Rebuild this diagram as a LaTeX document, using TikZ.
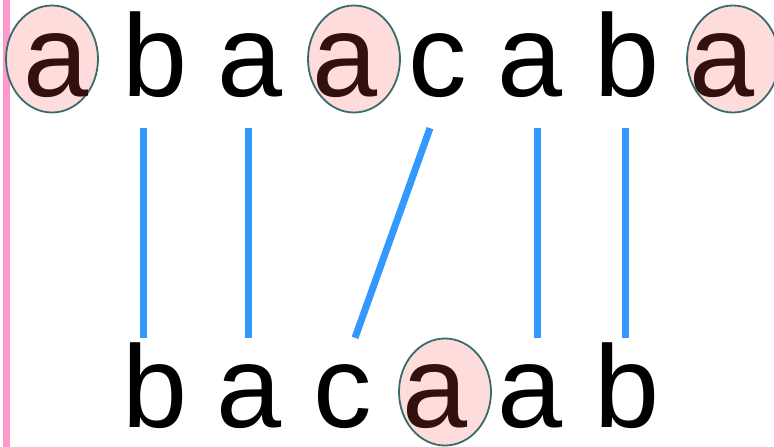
\documentclass[tikz,border=0pt]{standalone}
\usepackage{fontspec}
\setmainfont{Liberation Sans}
\usepackage{xcolor}
\usetikzlibrary{shapes.geometric}

\definecolor{linkblue}{HTML}{3399FF}
\definecolor{ringfill}{HTML}{FFDCDC}
\definecolor{ringline}{HTML}{3A6B6B}
\definecolor{hitext}{HTML}{321010}
\definecolor{edgepink}{HTML}{FF99CC}

\begin{document}
\begin{tikzpicture}[
        x=1pt, y=-1pt,
        letter/.style={anchor=base, inner sep=0pt, font=\fontsize{117}{117}\selectfont},
        upper/.style={letter, text depth=32pt},
        lower/.style={letter, text height=89pt, text depth=0pt},
        hit/.style={text=hitext},
        hilite/.style={ellipse, draw=ringline, line width=1.8pt, fill=ringfill, minimum width=92pt, minimum height=107pt, inner sep=0pt},
        link/.style={draw=linkblue, line width=7pt}
    ]
        \useasboundingbox (0,0) rectangle (774,447);

        % left margin line
        \draw [edgepink, line width=7pt] (6.5,0) -- (6.5,447);

        % highlight rings
        \node (r1) [hilite] at (52,59) {};
        \node (r2) [hilite] at (354,59) {};
        \node (r3) [hilite] at (733,59) {};
        \node (r4) [hilite] at (445,392) {};

        % top string
        \node (t1) [upper, hit] at (56,96) {a};
        \node (t2) [upper] at (155,96) {b};
        \node (t3) [upper] at (250,96) {a};
        \node (t4) [upper, hit] at (345,96) {a};
        \node (t5) [upper] at (438,96) {c};
        \node (t6) [upper] at (530,96) {a};
        \node (t7) [upper] at (627,96) {b};
        \node (t8) [upper, hit] at (722,96) {a};

        % bottom string
        \node (b1) [lower] at (155,427) {b};
        \node (b2) [lower] at (249,427) {a};
        \node (b3) [lower] at (343,427) {c};
        \node (b4) [lower, hit] at (435,427) {a};
        \node (b5) [lower] at (530,427) {a};
        \node (b6) [lower] at (627,427) {b};

        % matches
        \draw [link] ([xshift=-12pt]t2.south) -- ([xshift=-12pt]b1.north);
        \draw [link] ([xshift=-2pt]t3.south) -- ([xshift=-1pt]b2.north);
        \draw [link] ([xshift=-8pt]t5.south) -- ([xshift=12pt]b3.north);
        \draw [link] ([xshift=7pt]t6.south) -- ([xshift=7pt]b5.north);
        \draw [link] ([xshift=-2pt]t7.south) -- ([xshift=-2pt]b6.north);
    \end{tikzpicture}
\end{document}
